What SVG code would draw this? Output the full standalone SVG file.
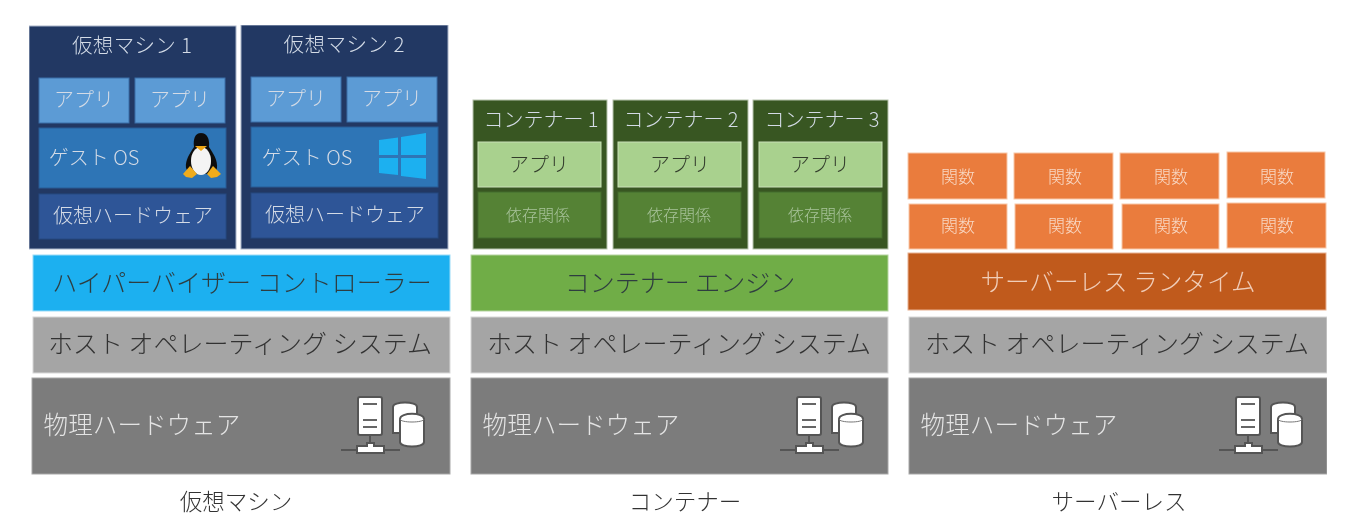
<svg xmlns="http://www.w3.org/2000/svg" width="1360" height="532" viewBox="0 0 1360 532">
<style>
text{font-family:"Noto Sans CJK JP","Noto Sans",sans-serif;font-weight:300;text-anchor:middle}
.b{stroke-width:1}
.vm{fill:#203864;stroke:#aab4c8}
.app{fill:#5b9bd5;stroke:#3e6ea8}
.os{fill:#2e75b6;stroke:#2a5a94}
.hw{fill:#2f5597;stroke:#294a80}
.hyp{fill:#1cb0f0;stroke:#9adcf8}
.host{fill:#a5a5a5;stroke:#d8d8d8}
.phys{fill:#7b7b7b;stroke:#a8a8a8}
.cn{fill:#385723;stroke:#b6c4ac}
.capp{fill:#a9d18e;stroke:#c9e0b8}
.dep{fill:#548235;stroke:#456d2c}
.eng{fill:#70ad47;stroke:#b5d4a0}
.fn{fill:#ea7b3c;stroke:#f8c8a8}
.rt{fill:#c05a1e;stroke:#e8b090}
.t1{font-size:20px;fill:#d4dbe6}
.tv{font-size:20.500px;fill:#d4dbe6}
.t2{font-size:25px;fill:#2f3d40}
.t3{font-size:24.600px;fill:#e4e4e4}
.t4{font-size:16px;fill:#aac49c}
.t5{font-size:17px;fill:#f8d8c4}
.t6{font-size:25px;fill:#333}
.t7{font-size:20px;fill:#333d2c}
.cap{font-size:22.500px;fill:#333}
.ic{stroke:#555;stroke-width:2;fill:#fff}
.ln{stroke:#555;stroke-width:2;fill:none}
</style>
<defs>
<filter id="soft" x="0" y="0" width="100%" height="100%"><feGaussianBlur stdDeviation="0.45"/></filter>
<g id="server">
<path class="ln" d="M1 53H60M30 38V48"/>
<rect class="ic" x="18" y="0" width="24" height="38" rx="2"/>
<path d="M23 7H37M23 23H37M23 30H37" stroke="#666" stroke-width="2.200"/>
<path class="ic" d="M17 49H27V46H34V49H44V56H17Z"/>
<path class="ic" d="M53 10C53 4 77 4 77 10V36H53Z"/>
<path class="ic" d="M60 22C60 15 84 15 84 22V45C84 51 60 51 60 45Z"/>
<path d="M60 22C60 26 84 26 84 22" fill="none" stroke="#777" stroke-width="1"/>
</g>
</defs>
<g id="picture" filter="url(#soft)">
<g id="vm1">
<rect class="vm b" x="29" y="26" width="207" height="223"/>
<text class="tv" x="132" y="53" textLength="120">仮想マシン 1</text>
<rect class="app b" x="39" y="78" width="90" height="45"/><text class="t1" x="84" y="107">アプリ</text>
<rect class="app b" x="135" y="78" width="90" height="45"/><text class="t1" x="180" y="107">アプリ</text>
<rect class="os b" x="39" y="128" width="187" height="60"/><text class="t1" x="94" y="165">ゲスト OS</text>
<g id="tux">
<path d="M201 133C195 133 193 139 194 147C190 153 185 160 186 168C188 176 216 176 217 168C218 160 213 153 209 147C210 139 207 133 201 133Z" fill="#111"/>
<ellipse cx="201" cy="161" rx="10" ry="14" fill="#f4f4f4"/>
<path d="M195 146L207 146L201 151Z" fill="#f0a818"/>
<path d="M183 174L190 166L197 174L192 178L186 177Z" fill="#f0ac1c"/>
<path d="M221 174L213 166L207 174L211 178L217 177Z" fill="#f0ac1c"/>
</g>
<rect class="hw b" x="39" y="194" width="187" height="45"/><text class="t1" x="133" y="223">仮想ハードウェア</text>
</g>
<g id="vm2">
<rect class="vm b" x="241" y="25" width="207" height="224"/>
<text class="tv" x="344" y="52" textLength="121">仮想マシン 2</text>
<rect class="app b" x="251" y="77" width="90" height="45"/><text class="t1" x="296" y="106">アプリ</text>
<rect class="app b" x="347" y="77" width="90" height="45"/><text class="t1" x="392" y="106">アプリ</text>
<rect class="os b" x="251" y="127" width="187" height="60"/><text class="t1" x="307" y="165">ゲスト OS</text>
<path id="win" d="M379 140L398 137.500V155H379ZM401 137L426 133V155H401ZM379 158H398V175L379 173ZM401 158H426V179L401 176Z" fill="#1cb0f0"/>
<rect class="hw b" x="251" y="193" width="187" height="45"/><text class="t1" x="345" y="222">仮想ハードウェア</text>
</g>
<g id="hypervisor"><rect class="hyp b" x="33" y="255" width="417" height="56"/><text class="t2" x="242" y="292">ハイパーバイザー コントローラー</text></g>
<g id="host1"><rect class="host b" x="33" y="317" width="417" height="56"/><text class="t6" x="240" y="353">ホスト オペレーティング システム</text></g>
<g id="phys1"><rect class="phys b" x="32" y="378" width="418" height="96"/><text class="t3" x="142" y="434">物理ハードウェア</text><use href="#server" x="340" y="397"/></g>
<g id="c1">
<rect class="cn b" x="473" y="100" width="134" height="149"/>
<text class="t1" x="541" y="127">コンテナー 1</text>
<rect class="capp b" x="478" y="142" width="123" height="45"/><text class="t7" x="539" y="172">アプリ</text>
<rect class="dep b" x="478" y="192" width="123" height="46"/><text class="t4" x="538" y="221">依存関係</text>
</g>
<g id="c2">
<rect class="cn b" x="613" y="100" width="135" height="149"/>
<text class="t1" x="681" y="127">コンテナー 2</text>
<rect class="capp b" x="618" y="142" width="123" height="45"/><text class="t7" x="680" y="172">アプリ</text>
<rect class="dep b" x="618" y="192" width="123" height="46"/><text class="t4" x="679" y="221">依存関係</text>
</g>
<g id="c3">
<rect class="cn b" x="753" y="100" width="135" height="149"/>
<text class="t1" x="822" y="127">コンテナー 3</text>
<rect class="capp b" x="759" y="142" width="123" height="45"/><text class="t7" x="820" y="172">アプリ</text>
<rect class="dep b" x="759" y="192" width="123" height="46"/><text class="t4" x="820" y="221">依存関係</text>
</g>
<g id="engine"><rect class="eng b" x="471" y="255" width="417" height="56"/><text class="t2" x="680" y="292">コンテナー エンジン</text></g>
<g id="host2"><rect class="host b" x="471" y="317" width="417" height="56"/><text class="t6" x="679" y="353">ホスト オペレーティング システム</text></g>
<g id="phys2"><rect class="phys b" x="471" y="378" width="417" height="96"/><text class="t3" x="581" y="434">物理ハードウェア</text><use href="#server" x="779" y="397"/></g>
<g id="f1"><rect class="fn b" x="908" y="153" width="99" height="46"/><text class="t5" x="958" y="183">関数</text></g>
<g id="f2"><rect class="fn b" x="1014" y="153" width="99" height="46"/><text class="t5" x="1065" y="183">関数</text></g>
<g id="f3"><rect class="fn b" x="1120" y="153" width="99" height="46"/><text class="t5" x="1171" y="183">関数</text></g>
<g id="f4"><rect class="fn b" x="1227" y="152" width="98" height="46"/><text class="t5" x="1277" y="183">関数</text></g>
<g id="f5"><rect class="fn b" x="909" y="204" width="98" height="45"/><text class="t5" x="958" y="232">関数</text></g>
<g id="f6"><rect class="fn b" x="1015" y="204" width="98" height="45"/><text class="t5" x="1065" y="232">関数</text></g>
<g id="f7"><rect class="fn b" x="1122" y="204" width="97" height="45"/><text class="t5" x="1171" y="232">関数</text></g>
<g id="f8"><rect class="fn b" x="1227" y="203" width="99" height="45"/><text class="t5" x="1277" y="232">関数</text></g>
<g id="runtime"><rect class="rt b" x="908" y="253" width="418" height="57"/><text class="t3" style="fill:#f0cdb8" x="1118" y="291">サーバーレス ランタイム</text></g>
<g id="host3"><rect class="host b" x="909" y="317" width="418" height="56"/><text class="t6" x="1117" y="353">ホスト オペレーティング システム</text></g>
<g id="phys3"><rect class="phys b" x="909" y="378" width="418" height="96"/><text class="t3" x="1019" y="434">物理ハードウェア</text><use href="#server" x="1218" y="397"/></g>
<text class="cap" id="cap1" x="236" y="510">仮想マシン</text>
<text class="cap" id="cap2" x="685" y="510">コンテナー</text>
<text class="cap" id="cap3" x="1119" y="510">サーバーレス</text>
</g>
</svg>
